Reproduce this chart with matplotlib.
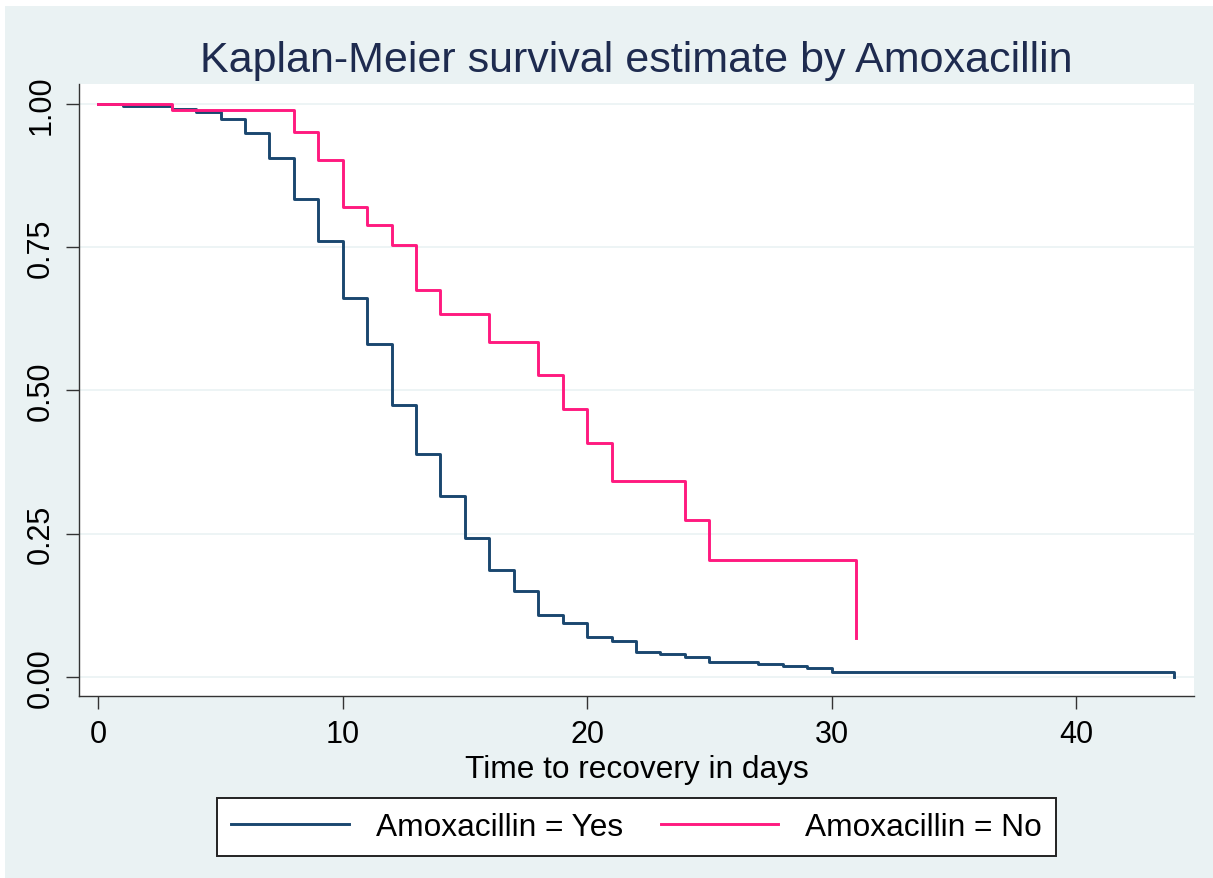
"""Kaplan-Meier survival curves by Amoxacillin, Stata s2color look."""

import matplotlib

matplotlib.use("Agg")
import matplotlib.pyplot as plt  # noqa: E402
from matplotlib.patches import Rectangle  # noqa: E402

# step points (value holds from each day onward)
days_yes = [0, 1, 3, 4, 5, 6, 7, 8, 9, 10, 11, 12, 13, 14, 15, 16, 17, 18,
            19, 20, 21, 22, 23, 24, 25, 27, 28, 29, 30, 44]
surv_yes = [1.0, 0.996, 0.991, 0.9855, 0.974, 0.949, 0.906, 0.834, 0.760,
            0.661, 0.581, 0.475, 0.389, 0.316, 0.243, 0.187, 0.149, 0.107,
            0.094, 0.070, 0.062, 0.043, 0.039, 0.034, 0.025, 0.0215, 0.0187,
            0.016, 0.009, 0.0]

days_no = [0, 3, 8, 9, 10, 11, 12, 13, 14, 16, 18, 19, 20, 21, 24, 25, 31]
surv_no = [1.0, 0.990, 0.952, 0.902, 0.821, 0.789, 0.754, 0.676, 0.633,
           0.584, 0.527, 0.467, 0.408, 0.341, 0.273, 0.204, 0.068]

labels = ["Amoxacillin = Yes", "Amoxacillin = No"]
x_ticks = [0, 10, 20, 30, 40]
y_ticks = [0.0, 0.25, 0.5, 0.75, 1.0]
y_ticklabels = ["0.00", "0.25", "0.50", "0.75", "1.00"]

BG = "#EAF2F3"
BLUE = "#1A476F"
PINK = "#FF1A7F"

plt.rcParams["font.family"] = ["Liberation Sans", "DejaVu Sans"]

fig = plt.figure(figsize=(12.13, 8.79), dpi=100, facecolor="white")
# graph region background, leaves a thin white strip at top and left
fig.patches.append(Rectangle((5 / 1213, 0), 1, 1 - 7 / 879,
                             transform=fig.transFigure, facecolor=BG,
                             edgecolor="none", zorder=-10))

ax = fig.add_axes([79 / 1213, 1 - 697 / 879, 1115 / 1213, 612 / 879])
ax.set_facecolor("white")

ax.step(days_yes, surv_yes, where="post", color=BLUE, lw=2.1,
        label=labels[0], zorder=3)
ax.step(days_no, surv_no, where="post", color=PINK, lw=2.1,
        label=labels[1], zorder=3)

ax.set_xlim(-0.79, 44.83)
ax.set_ylim(-0.0337, 1.035)

ax.set_xticks(x_ticks)
ax.set_yticks(y_ticks)
ax.set_yticklabels(y_ticklabels, rotation=90, va="center")
ax.tick_params(axis="both", length=9.4, width=1.0, color="#333333",
               labelsize=22, pad=7)
ax.grid(axis="y", color=BG, lw=1.2)
ax.set_axisbelow(True)

for side in ("top", "right"):
    ax.spines[side].set_visible(False)
for side in ("left", "bottom"):
    ax.spines[side].set_color("#333333")
    ax.spines[side].set_linewidth(1.0)

ax.set_xlabel("Time to recovery in days", fontsize=22.8, labelpad=3.5)
fig.text(636.5 / 1213, 1 - 61 / 879,
         "Kaplan-Meier survival estimate by Amoxacillin",
         ha="center", va="center", fontsize=31, color="#1E2B4F")

leg = fig.legend(loc="center", bbox_to_anchor=(636.5 / 1213, 1 - 828 / 879),
                 ncol=2, prop={"size": 22.8}, frameon=True, fancybox=False,
                 framealpha=1, facecolor="white", edgecolor="#222222",
                 handlelength=3.7, handletextpad=0.85, columnspacing=1.2,
                 borderpad=0.45, borderaxespad=0)
leg.get_frame().set_linewidth(1.4)

fig.savefig("out.png", dpi=100, facecolor=fig.get_facecolor())
